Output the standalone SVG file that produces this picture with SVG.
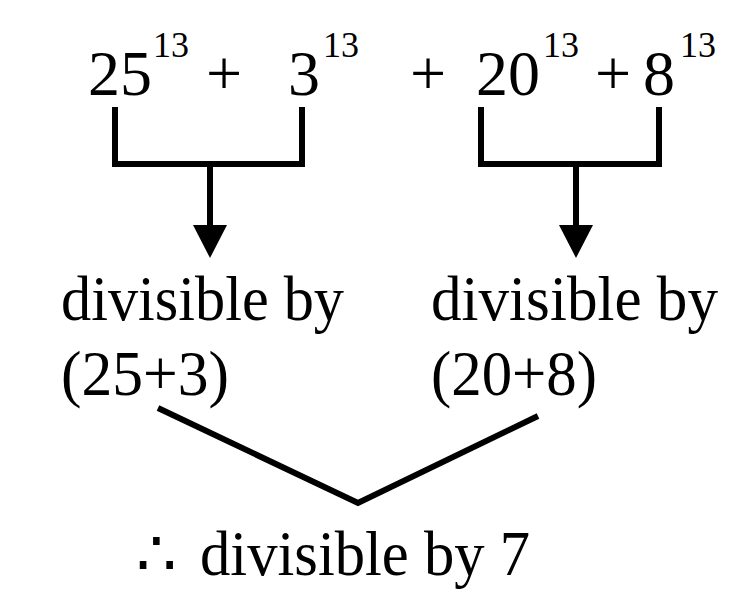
<svg xmlns="http://www.w3.org/2000/svg" width="747" height="590" viewBox="0 0 747 590">
<style>
.t{font-family:"Liberation Serif","Times New Roman",serif;font-size:64px;fill:#000}
.s{font-family:"Liberation Serif","Times New Roman",serif;font-size:36px;fill:#000}
.ln{fill:none;stroke:#000;stroke-width:6;stroke-linejoin:miter}
</style>
<rect width="747" height="590" fill="#fff"/>
<g id="expr">
<text class="t" x="88" y="95">25</text>
<text class="s" x="153" y="57">13</text>
<text class="t" x="206" y="95">+</text>
<text class="t" x="288" y="95">3</text>
<text class="s" x="323" y="57">13</text>
<text class="t" x="410" y="95">+</text>
<text class="t" x="476" y="95">20</text>
<text class="s" x="543" y="57">13</text>
<text class="t" x="595" y="95">+</text>
<text class="t" x="643" y="95">8</text>
<text class="s" x="680" y="57">13</text>
</g>
<g id="left-result">
<text class="t" x="61" y="320" textLength="283" lengthAdjust="spacingAndGlyphs">divisible by</text>
<text class="t" x="61" y="395" textLength="168" lengthAdjust="spacingAndGlyphs">(25+3)</text>
</g>
<g id="right-result">
<text class="t" x="431" y="320" textLength="287" lengthAdjust="spacingAndGlyphs">divisible by</text>
<text class="t" x="431" y="395" textLength="166" lengthAdjust="spacingAndGlyphs">(20+8)</text>
</g>
<g id="conclusion">
<text class="t" x="136" y="575">∴ <tspan x="200" textLength="330" lengthAdjust="spacingAndGlyphs">divisible by 7</tspan></text>
</g>
<g id="connectors">
<path class="ln" d="M115 107V164H302V107"/>
<path class="ln" d="M481 107V164H659V107"/>
<path class="ln" d="M210 164V228"/>
<path class="ln" d="M576 164V228"/>
<polygon points="193,225 227,225 210,258" fill="#000"/>
<polygon points="559,225 593,225 576,258" fill="#000"/>
<path class="ln" d="M158 408L358 503L538 416"/>
</g>
</svg>
